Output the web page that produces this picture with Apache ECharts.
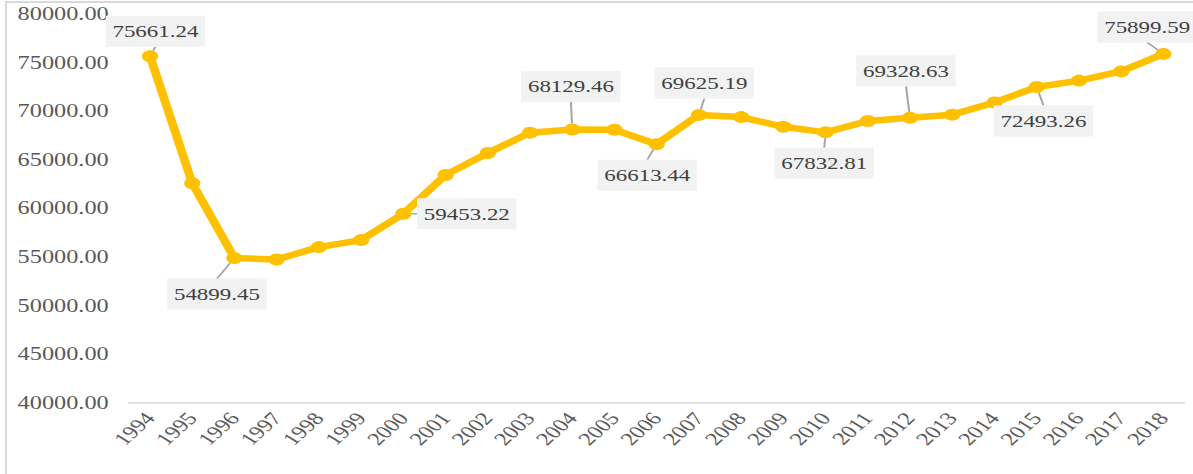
<!DOCTYPE html>
<html>
<head>
<meta charset="utf-8">
<script src="https://cdn.jsdelivr.net/npm/echarts@6/dist/echarts.min.js"></script>
<style>
  html, body { margin: 0; padding: 0; background: #fff; overflow: hidden; }
  #frame { position: absolute; left: 5px; top: 1px; width: 1200px; height: 480px;
           border-left: 2px solid #d9d9d9; border-top: 2px solid #d9d9d9; }
  #chart { position: absolute; left: 0; top: 0; width: 884px; height: 474px;
           transform: scaleX(1.35); transform-origin: 0 0; }
</style>
</head>
<body>
<div id="frame"></div>
<div id="chart"></div>
<script>
const years = ['1994','1995','1996','1997','1998','1999','2000','2001','2002','2003','2004','2005','2006',
  '2007','2008','2009','2010','2011','2012','2013','2014','2015','2016','2017','2018']
const values = [75661.24, 62600, 54899.45, 54750, 56030, 56750, 59453.22, 63450, 65700, 67800, 68129.46, 68100,
  66613.44, 69625.19, 69400, 68400, 67832.81, 69000, 69328.63, 69650, 70900, 72493.26, 73150, 74100, 75899.59]
// years that carry a value label
const labeledYears = ['1994','1996','2000','2004','2006','2007','2010','2012','2015','2018']
const yTicks = { min: 40000, max: 80000, step: 5000 }

// label box shift from its point (chart is stretched 1.35x horizontally afterwards)
const labelShift = {
  '1994': [4, -25], '1996': [-13, 36], '2000': [47, 0], '2004': [-1, -43], '2006': [-7, 31],
  '2007': [4, -32], '2010': [-1, 31], '2012': [-3, -47], '2015': [5, 34], '2018': [-12, -27]
}

const font = 'Liberation Serif, Times New Roman, serif'

const data = values.map(function (v, i) {
  return { value: v, label: { show: labeledYears.indexOf(years[i]) >= 0 } }
})

const myChart = echarts.init(document.getElementById('chart'), null, { renderer: 'svg' })
myChart.setOption({
  animation: false,
  grid: { left: 95.5, right: 6.6, top: 14, bottom: 71 },
  xAxis: {
    type: 'category',
    data: years,
    axisLine: { lineStyle: { color: '#d9d9d9', width: 1.5 } },
    axisTick: { show: false },
    axisLabel: { rotate: 50, margin: 12, color: '#595959', fontFamily: font, fontSize: 18 }
  },
  yAxis: {
    type: 'value',
    min: yTicks.min,
    max: yTicks.max,
    interval: yTicks.step,
    axisLine: { show: false },
    axisTick: { show: false },
    splitLine: { show: false },
    axisLabel: {
      margin: 15, color: '#595959', fontFamily: font, fontSize: 18,
      formatter: function (v) { return v.toFixed(2) }
    }
  },
  series: [{
    type: 'line',
    data: data,
    symbol: 'circle',
    symbolSize: 12,
    lineStyle: { color: '#FFC000', width: 6.5 },
    itemStyle: { color: '#FFC000' },
    label: {
      show: false,
      position: 'inside',
      color: '#404040',
      fontFamily: font,
      fontSize: 17,
      backgroundColor: '#f2f2f2',
      padding: [7, 5],
      formatter: function (p) { return p.value.toFixed(2) }
    },
    labelLine: { show: true, lineStyle: { color: '#a6a6a6', width: 1.5 } },
    labelLayout: function (params) {
      const s = labelShift[years[params.dataIndex]] || [0, 0]
      return { dx: s[0], dy: s[1] }
    }
  }]
})
</script>
</body>
</html>
